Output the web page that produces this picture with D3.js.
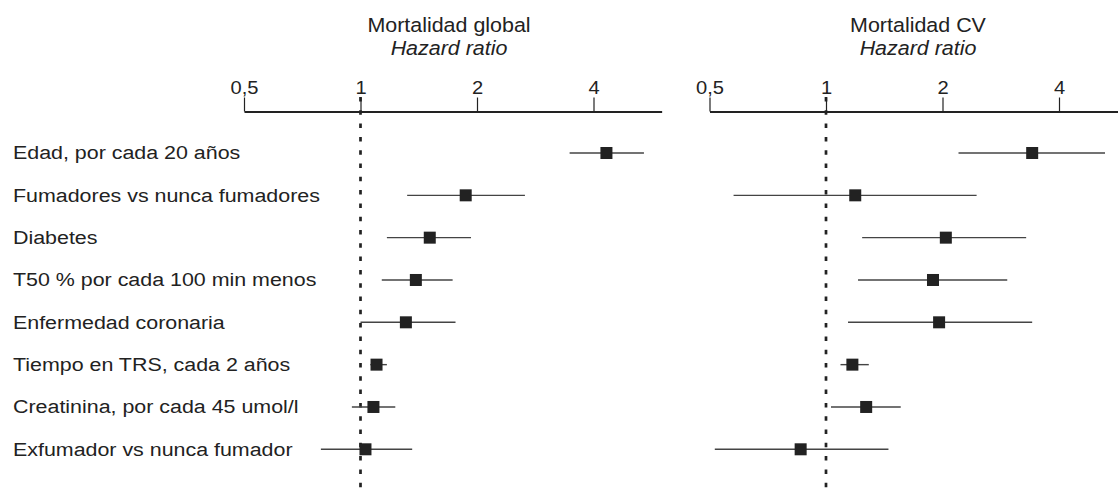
<!DOCTYPE html>
<html>
<head>
<meta charset="utf-8">
<script src="https://cdn.jsdelivr.net/npm/d3@7"></script>
<style>
  body { margin: 0; background: #fff; }
  svg { display: block; font-family: "Liberation Sans", Arial, Helvetica, sans-serif; }
</style>
</head>
<body>
<div id="chart"></div>
<script>
// row labels, top to bottom
const labels = [
  'Edad, por cada 20 años',
  'Fumadores vs nunca fumadores',
  'Diabetes',
  'T50 % por cada 100 min menos',
  'Enfermedad coronaria',
  'Tiempo en TRS, cada 2 años',
  'Creatinina, por cada 45 umol/l',
  'Exfumador vs nunca fumador'
];

// Mortalidad global: hazard ratio and 95% CI
const globalHR = [4.32, 1.87, 1.51, 1.39, 1.31, 1.10, 1.08, 1.03];
const globalLo = [3.47, 1.32, 1.17, 1.135, 1.00, 1.06, 0.95, 0.79];
const globalHi = [5.40, 2.66, 1.93, 1.73, 1.76, 1.17, 1.23, 1.36];

// Mortalidad CV
const cvHR = [3.41, 1.19, 2.04, 1.89, 1.96, 1.17, 1.27, 0.86];
const cvLo = [2.20, 0.577, 1.24, 1.21, 1.14, 1.09, 1.03, 0.516];
const cvHi = [5.26, 2.45, 3.29, 2.94, 3.41, 1.29, 1.56, 1.45];

const tickValues = [0.5, 1, 2, 4];
const tickLabels = ['0,5', '1', '2', '4'];
const hrDomain = [0.5, 6];

const width = 1118;
const height = 490;
const axisY = 111.5;
const ink = '#222';

const svg = d3.select('#chart')
  .append('svg')
  .attr('width', width)
  .attr('height', height);

const yScale = d3.scalePoint()
  .domain(labels)
  .range([153, 449.3]);

// row labels
svg.append('g')
  .selectAll('text')
  .data(labels)
  .join('text')
  .attr('transform', d => `translate(13,${yScale(d)}) scale(1.19,1)`)
  .attr('dy', '0.35em')
  .attr('font-size', 18)
  .attr('fill', ink)
  .text(d => d);

function drawPanel(title, hr, lo, hi, x0, titleX) {
  const rows = labels.map((l, i) => ({label: l, hr: hr[i], lo: lo[i], hi: hi[i]}));

  const xScale = d3.scaleLog()
    .domain(hrDomain)
    .range([x0, x0 + 116.5 * Math.log2(hrDomain[1] / hrDomain[0])]);

  const g = svg.append('g');

  // titles
  g.append('text')
    .attr('transform', `translate(${titleX},32) scale(1.1,1)`)
    .attr('text-anchor', 'middle')
    .attr('font-size', 19.5)
    .attr('fill', ink)
    .text(title);
  g.append('text')
    .attr('transform', `translate(${titleX},55) scale(1.1,1)`)
    .attr('text-anchor', 'middle')
    .attr('font-size', 19.5)
    .attr('font-style', 'italic')
    .attr('fill', ink)
    .text('Hazard ratio');

  // reference line at HR = 1
  g.append('line')
    .attr('x1', xScale(1)).attr('x2', xScale(1))
    .attr('y1', 97).attr('y2', height)
    .attr('stroke', ink)
    .attr('stroke-width', 2.7)
    .attr('stroke-dasharray', '4.5,8.8');

  const axis = d3.axisTop(xScale)
    .tickValues(tickValues)
    .tickFormat((d, i) => tickLabels[i])
    .tickSize(14)
    .tickSizeOuter(0)
    .tickPadding(4);

  const ax = g.append('g')
    .attr('transform', `translate(0,${axisY})`)
    .call(axis);
  ax.select('.domain').attr('stroke', ink).attr('stroke-width', 2.2);
  ax.selectAll('.tick line').attr('stroke', ink).attr('stroke-width', 1.2);
  ax.selectAll('.tick text')
    .attr('font-size', 19)
    .attr('font-family', '"Liberation Sans", Arial, Helvetica, sans-serif')
    .attr('fill', ink)
    .attr('transform', 'scale(1.06,1)');

  // confidence intervals
  g.append('g')
    .selectAll('line')
    .data(rows)
    .join('line')
    .attr('x1', d => xScale(d.lo))
    .attr('x2', d => xScale(d.hi))
    .attr('y1', d => yScale(d.label))
    .attr('y2', d => yScale(d.label))
    .attr('stroke', '#444')
    .attr('stroke-width', 1.4);

  // point estimates
  const sq = 12;
  g.append('g')
    .selectAll('rect')
    .data(rows)
    .join('rect')
    .attr('x', d => xScale(d.hr) - sq / 2)
    .attr('y', d => yScale(d.label) - sq / 2)
    .attr('width', sq)
    .attr('height', sq)
    .attr('fill', ink);
}

drawPanel('Mortalidad global', globalHR, globalLo, globalHi, 244, 449);
drawPanel('Mortalidad CV', cvHR, cvLo, cvHi, 709.5, 918);
</script>
</body>
</html>
